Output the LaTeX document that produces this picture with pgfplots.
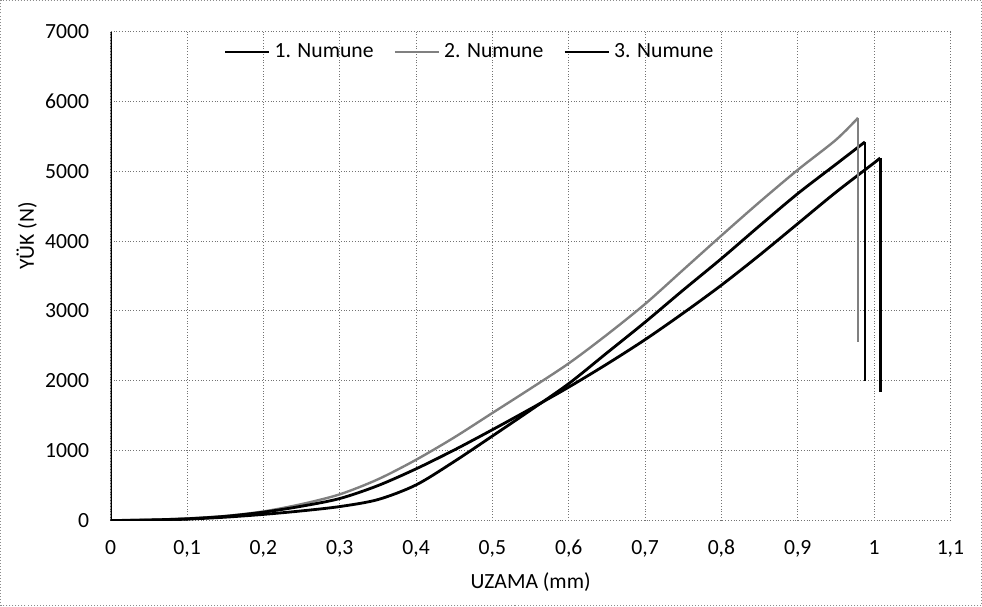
\documentclass[border=0pt]{standalone}
\usepackage{fontspec}
\setmainfont{Carlito}
\usepackage{pgfplots}
\pgfplotsset{compat=1.18}
\begin{document}
\fontsize{10.8}{13}\selectfont
\begin{tikzpicture}
\begin{axis}[
  scale only axis, width=419pt, height=244pt,
  xmin=0, xmax=1.1, ymin=0, ymax=7000,
  xtick={0,0.1,0.2,0.3,0.4,0.5,0.6,0.7,0.8,0.9,1,1.1},
  ytick={0,1000,2000,3000,4000,5000,6000,7000},
  grid=major, grid style={densely dotted, black!55, line width=0.5pt},
  axis line style={draw=none},
  major tick length=0pt,
  scaled ticks=false,
  /pgf/number format/assume math mode=true,
  xticklabel style={/pgf/number format/.cd, fixed, use comma, precision=1, /tikz/.cd, yshift=-6pt},
  yticklabel style={/pgf/number format/.cd, fixed, 1000 sep={}, /tikz/.cd, xshift=-7pt},
  tick label style={font=\fontsize{10.8}{13}\selectfont},
  xlabel={UZAMA (mm)}, ylabel={YÜK (N)},
  xlabel style={at={(axis description cs:0.5,-0.125)}, anchor=center, font=\fontsize{10.8}{13}\selectfont},
  ylabel style={at={(axis description cs:-0.1,0.582)}, anchor=center, rotate=0, font=\fontsize{10.8}{13}\selectfont},
  legend columns=3,
  legend style={at={(axis description cs:0.134,0.985)}, anchor=north west, draw=none, fill=none,
    font=\fontsize{10.8}{13}\selectfont, inner sep=0pt,
    /tikz/every even column/.append style={column sep=8pt}},
  legend image code/.code={\draw[#1] (0pt,0pt) -- (22pt,0pt);},
]
\addplot[black, line width=1.4pt, smooth, tension=0.5] coordinates {
(0,0) (0.05,5) (0.1,20) (0.15,48) (0.2,88) (0.25,138) (0.3,200) (0.35,300) (0.4,510)
(0.45,845) (0.5,1210) (0.55,1580) (0.6,1960) (0.65,2400) (0.7,2840) (0.75,3300)
(0.8,3750) (0.85,4220) (0.9,4680) (0.95,5100) (0.988,5420)};
\addlegendentry{1. Numune}
\addplot[black!50, line width=1.2pt, smooth, tension=0.5] coordinates {
(0,0) (0.05,10) (0.1,30) (0.15,65) (0.2,130) (0.25,235) (0.3,375) (0.35,590) (0.4,870)
(0.45,1190) (0.5,1540) (0.55,1890) (0.6,2250) (0.65,2660) (0.7,3100) (0.75,3590)
(0.8,4080) (0.85,4560) (0.9,5020) (0.95,5450) (0.979,5765)};
\addlegendentry{2. Numune}
\addplot[black, line width=1.4pt, smooth, tension=0.5] coordinates {
(0,0) (0.05,8) (0.1,25) (0.15,60) (0.2,120) (0.25,205) (0.3,315) (0.35,500) (0.4,740)
(0.45,1010) (0.5,1300) (0.55,1600) (0.6,1910) (0.65,2240) (0.7,2590) (0.75,2970)
(0.8,3370) (0.85,3800) (0.9,4250) (0.95,4700) (1.0,5120) (1.008,5190)};
\addlegendentry{3. Numune}
\addplot[black, line width=1.4pt, forget plot] coordinates {(0.988,5420) (0.988,2000)};
\addplot[black!50, line width=1.2pt, forget plot] coordinates {(0.979,5765) (0.979,2554)};
\addplot[black, line width=1.4pt, forget plot] coordinates {(1.008,5190) (1.008,1836)};
\draw[black, line width=1pt] (axis cs:0,0) -- (axis cs:0,7000);
\end{axis}
\draw[densely dotted, black!45, line width=0.5pt] ([xshift=-55pt,yshift=-42.5pt]current axis.south west) rectangle ([xshift=15.5pt,yshift=15.5pt]current axis.north east);
\end{tikzpicture}
\end{document}
